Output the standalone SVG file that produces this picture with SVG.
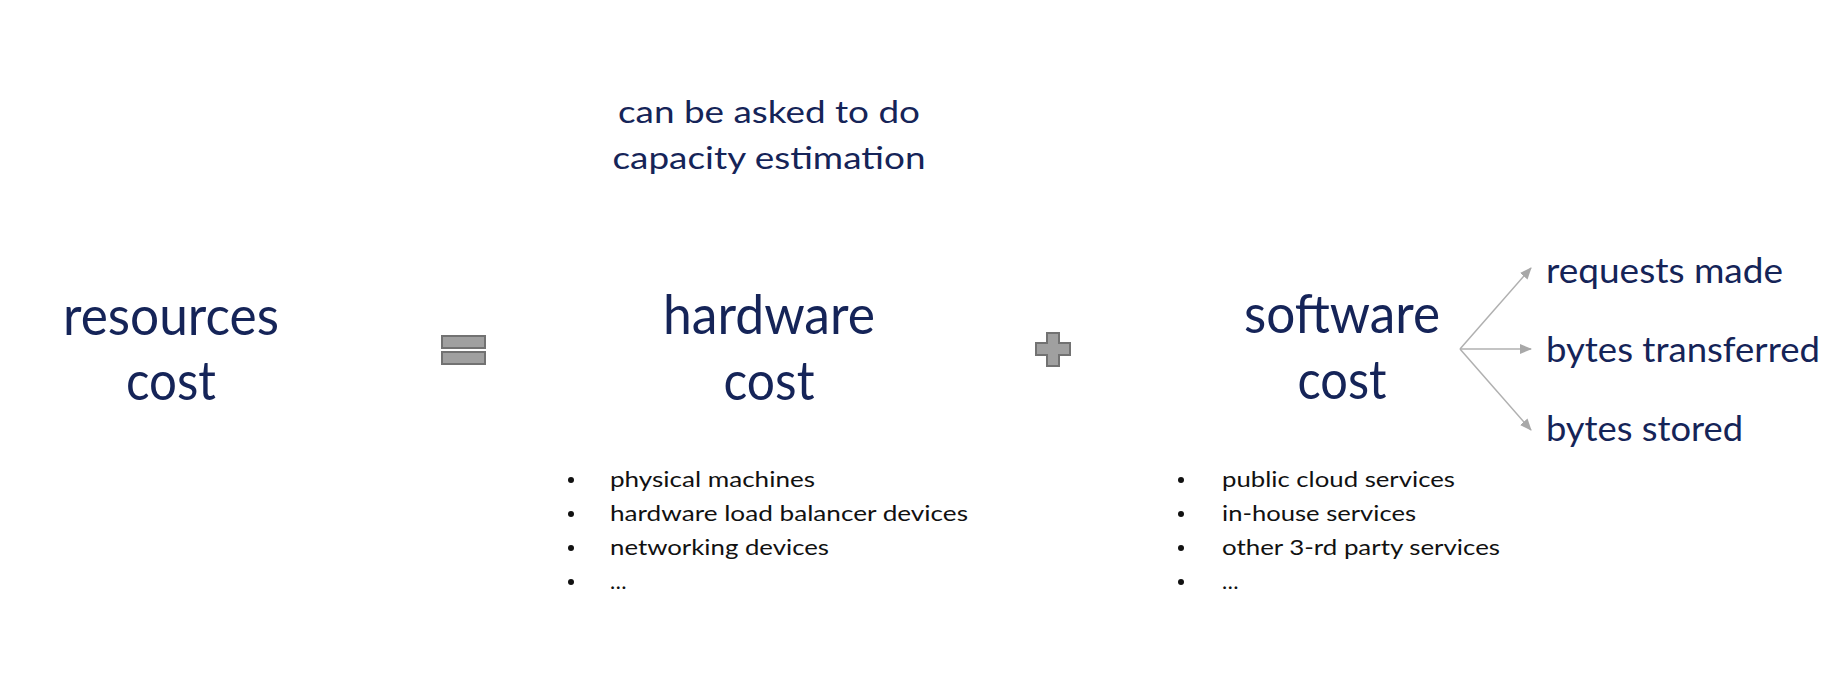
<svg xmlns="http://www.w3.org/2000/svg" width="1839" height="680" viewBox="0 0 1839 680">
  <defs>
    <style>
      .big { font-family: Lato, "Open Sans", sans-serif; font-size: 54px; fill: #152458; text-anchor: middle; }
      .mid { font-family: Lato, "Open Sans", sans-serif; font-size: 31px; fill: #152458; }
      .side { font-size: 35px; }
      .note { text-anchor: middle; }
      .item { font-family: Lato, "Open Sans", sans-serif; font-size: 22px; fill: #111111; }
      .op { fill: #a0a0a0; stroke: #727272; stroke-width: 2; }
      .link { stroke: #b0b0b0; stroke-width: 1.5; fill: none; marker-end: url(#tip); }
    </style>
    <marker id="tip" viewBox="0 0 12 10" refX="11" refY="5" markerWidth="12" markerHeight="10" markerUnits="userSpaceOnUse" orient="auto">
      <path d="M0,0 L12,5 L0,10 z" fill="#a8a8a8"/>
    </marker>
  </defs>

  <rect width="1839" height="680" fill="#ffffff"/>

  <!-- note above the hardware term -->
  <g id="note">
    <text class="mid note" x="769" y="123" textLength="302" lengthAdjust="spacingAndGlyphs">can be asked to do</text>
    <text class="mid note" x="769" y="169" textLength="313" lengthAdjust="spacingAndGlyphs">capacity estimation</text>
  </g>

  <!-- left-hand side -->
  <g id="resources-cost">
    <text class="big" x="171" y="335" textLength="216" lengthAdjust="spacingAndGlyphs">resources</text>
    <text class="big" x="171" y="400" textLength="90" lengthAdjust="spacingAndGlyphs">cost</text>
  </g>

  <!-- equals sign -->
  <g id="equals">
    <rect class="op" x="442" y="336" width="43" height="12"/>
    <rect class="op" x="442" y="352" width="43" height="12"/>
  </g>

  <g id="hardware-cost">
    <text class="big" x="769" y="334" textLength="212" lengthAdjust="spacingAndGlyphs">hardware</text>
    <text class="big" x="769" y="400" textLength="91" lengthAdjust="spacingAndGlyphs">cost</text>
  </g>

  <!-- plus sign -->
  <g id="plus">
    <path class="op" d="M1047,333 H1059 V343 H1070 V355 H1059 V366 H1047 V355 H1036 V343 H1047 Z"/>
  </g>

  <g id="software-cost">
    <text class="big" x="1342" y="333" textLength="196" lengthAdjust="spacingAndGlyphs">software</text>
    <text class="big" x="1342" y="399" textLength="89" lengthAdjust="spacingAndGlyphs">cost</text>
  </g>

  <g id="requests-made">
    <text class="mid side" x="1546" y="283" textLength="237" lengthAdjust="spacingAndGlyphs">requests made</text>
  </g>
  <g id="bytes-transferred">
    <text class="mid side" x="1546" y="362" textLength="274" lengthAdjust="spacingAndGlyphs">bytes transferred</text>
  </g>
  <g id="bytes-stored">
    <text class="mid side" x="1546" y="441" textLength="197" lengthAdjust="spacingAndGlyphs">bytes stored</text>
  </g>

  <!-- hardware cost items -->
  <g id="hardware-items" class="item">
    <circle cx="571" cy="480" r="3" fill="#111"/>
    <circle cx="571" cy="514" r="3" fill="#111"/>
    <circle cx="571" cy="548" r="3" fill="#111"/>
    <circle cx="571" cy="582" r="3" fill="#111"/>
    <text x="610" y="487" textLength="205" lengthAdjust="spacingAndGlyphs">physical machines</text>
    <text x="610" y="521" textLength="358" lengthAdjust="spacingAndGlyphs">hardware load balancer devices</text>
    <text x="610" y="555" textLength="219" lengthAdjust="spacingAndGlyphs">networking devices</text>
    <text x="610" y="589">…</text>
  </g>

  <!-- software cost items -->
  <g id="software-items" class="item">
    <circle cx="1181" cy="480" r="3" fill="#111"/>
    <circle cx="1181" cy="514" r="3" fill="#111"/>
    <circle cx="1181" cy="548" r="3" fill="#111"/>
    <circle cx="1181" cy="582" r="3" fill="#111"/>
    <text x="1222" y="487" textLength="233" lengthAdjust="spacingAndGlyphs">public cloud services</text>
    <text x="1222" y="521" textLength="194" lengthAdjust="spacingAndGlyphs">in-house services</text>
    <text x="1222" y="555" textLength="278" lengthAdjust="spacingAndGlyphs">other 3-rd party services</text>
    <text x="1222" y="589">…</text>
  </g>

  <!-- connectors fanning out of software cost -->
  <g id="connectors">
    <line class="link" x1="1460" y1="349" x2="1531" y2="268"/>
    <line class="link" x1="1460" y1="349" x2="1531" y2="349"/>
    <line class="link" x1="1460" y1="349" x2="1531" y2="430"/>
  </g>
</svg>
